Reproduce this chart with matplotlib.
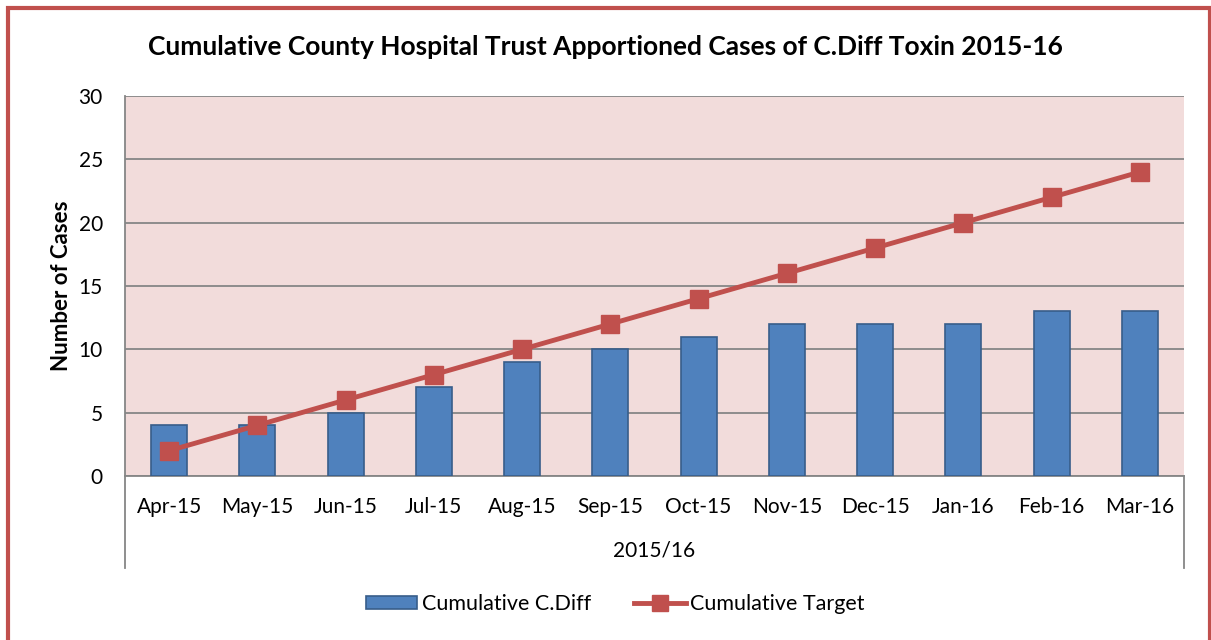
import matplotlib.pyplot as plt
import matplotlib.patches as mpatches
import numpy as np

months = ['Apr-15', 'May-15', 'Jun-15', 'Jul-15', 'Aug-15', 'Sep-15',
          'Oct-15', 'Nov-15', 'Dec-15', 'Jan-16', 'Feb-16', 'Mar-16']
cdiff = [4, 4, 5, 7, 9, 10, 11, 12, 12, 12, 13, 13]
target = [2, 4, 6, 8, 10, 12, 14, 16, 18, 20, 22, 24]
group_label = '2015/16'

plt.rcParams['font.family'] = ['Lato', 'DejaVu Sans']

W, H = 1211, 640
fig = plt.figure(figsize=(W / 100, H / 100), dpi=100)
ax = fig.add_axes([125 / W, 1 - 476 / H, (1184 - 125) / W, (476 - 96) / H])
ax.set_facecolor('#F2DCDB')

x = np.arange(len(months))
bars = ax.bar(x, cdiff, width=0.41, color='#4F81BD', edgecolor='#385D8A',
              linewidth=1.2, label='Cumulative C.Diff', zorder=3)
line, = ax.plot(x, target, color='#C0504D', linewidth=3.5, marker='s', markersize=13,
                label='Cumulative Target', zorder=4)

ax.set_xlim(-0.5, len(months) - 0.5)
ax.set_ylim(0, 30)
ax.set_yticks(range(0, 31, 5))
ax.grid(axis='y', color='#868686', linewidth=1.3, zorder=1)
ax.set_axisbelow(True)
for s in ['top', 'right']:
    ax.spines[s].set_visible(False)
for s in ['left', 'bottom']:
    ax.spines[s].set_color('#868686')
    ax.spines[s].set_linewidth(1.3)

ax.set_xticks(x)
ax.set_xticklabels(months, fontsize=15)
ax.tick_params(axis='x', length=0, pad=15)
ax.tick_params(axis='y', length=0, pad=16, labelsize=15)

# second category level
for xa in (0, 1):
    ax.plot([xa, xa], [0, -0.242], transform=ax.transAxes, color='#868686',
            linewidth=1.3, clip_on=False)
ax.text(0.5, -0.197, group_label, transform=ax.transAxes, ha='center',
        va='center', fontsize=15)

ax.set_ylabel('Number of Cases', fontsize=16, fontweight='bold', labelpad=5)
fig.text(0.5, 1 - 47 / H, 'Cumulative County Hospital Trust Apportioned Cases of C.Diff Toxin 2015-16',
         ha='center', va='center', fontsize=19, fontweight='bold')

fig.legend([bars, line], ['Cumulative C.Diff', 'Cumulative Target'],
           loc='center', bbox_to_anchor=(615 / W, 1 - 604 / H), ncol=2,
           frameon=False, fontsize=15.5, handlelength=2.4, handleheight=0.55,
           columnspacing=2.0, handletextpad=0.2, markerscale=0.85)

# outer border
fig.patches.append(mpatches.Rectangle((8 / W, -0.05), (1210 - 8) / W, 1.05 - 8.5 / H,
                                      transform=fig.transFigure, fill=False,
                                      edgecolor='#C0504D', linewidth=3))

fig.savefig('out.png', dpi=100)
